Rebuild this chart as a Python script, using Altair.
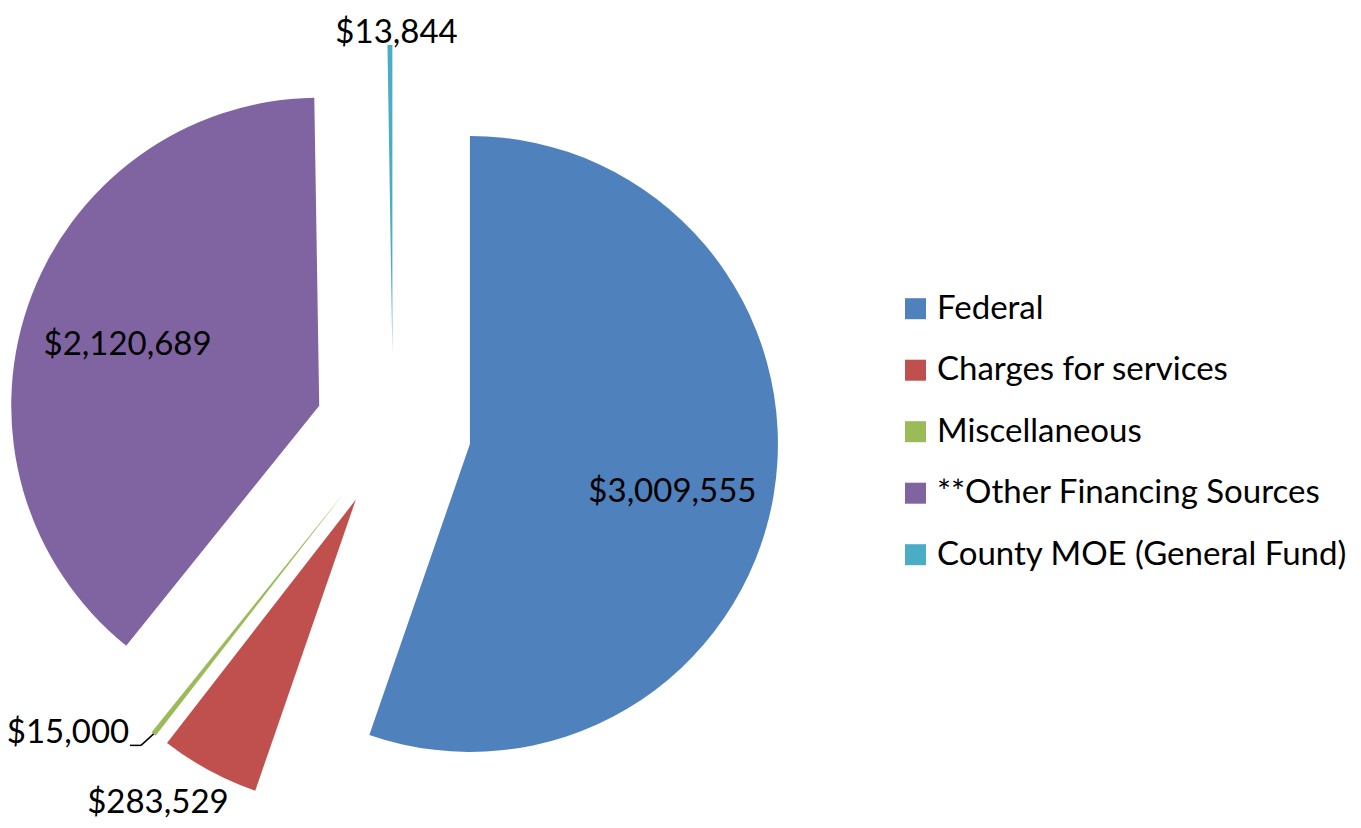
import altair as alt
import pandas as pd

# ---- data ----
categories = ["Federal", "Charges for services", "Miscellaneous",
              "**Other Financing Sources", "County MOE (General Fund)"]
values = [3009555, 283529, 15000, 2120689, 13844]

# ---- style / layout ----
colors = ["#4F81BD", "#C0504D", "#9BBB59", "#8064A2", "#4BACC6"]
label_r = [208, 362, 367, 201, 320]          # label distance from slice apex
label_da = [3.7, 4.7, 10.6, -1.4, 1.2]       # label angle tweak (deg)

FONT = "Lato"
FS = 33
CX, CY, R, EXPLODE = 385, 423, 308, 78
W, H = 1345, 812

df = pd.DataFrame({"cat": categories, "value": values, "idx": list(range(len(values))),
                   "lr": label_r, "lda": label_da})

base = (
    alt.Chart(df)
    .transform_joinaggregate(total="sum(value)")
    .transform_window(cum="sum(value)", sort=[alt.SortField("idx")], frame=[None, 0])
    .transform_calculate(t0="(datum.cum - datum.value) / datum.total * 2 * PI")
    .transform_calculate(t1="datum.cum / datum.total * 2 * PI")
    .transform_calculate(mid="(datum.t0 + datum.t1) / 2")
    .transform_calculate(px=f"{CX} + {EXPLODE} * sin(datum.mid)")
    .transform_calculate(py=f"{CY} - {EXPLODE} * cos(datum.mid)")
    .transform_calculate(la="datum.mid + datum.lda * PI / 180")
    .transform_calculate(lx="datum.px + datum.lr * sin(datum.la)")
    .transform_calculate(ly="datum.py - datum.lr * cos(datum.la)")
    .transform_calculate(label="format(datum.value, '$,')")
    .transform_calculate(ox=f"datum.px + {R} * sin(datum.mid)")
    .transform_calculate(oy=f"datum.py - {R} * cos(datum.mid)")
)

arcs = base.mark_arc(radius=R).encode(
    x=alt.X("px:Q", scale=None, axis=None),
    y=alt.Y("py:Q", scale=None, axis=None),
    theta=alt.Theta("t0:Q", scale=None),
    theta2="t1:Q",
    color=alt.Color(
        "cat:N",
        scale=alt.Scale(domain=categories, range=colors),
        sort=categories,
        legend=alt.Legend(
            title=None, orient="none", legendX=891, legendY=300.7 - FS / 2,
            symbolType="square", symbolSize=441, symbolStrokeWidth=0,
            labelFont=FONT, labelFontSize=FS, labelColor="black",
            labelOffset=5, rowPadding=27.5, padding=0, labelLimit=600,
        ),
    ),
)

texts = base.mark_text(font=FONT, fontSize=FS, baseline="middle", align="center",
                       color="black").encode(
    x=alt.X("lx:Q", scale=None, axis=None),
    y=alt.Y("ly:Q", scale=None, axis=None),
    text="label:N",
)

misc = base.transform_filter("datum.cat == 'Miscellaneous'")
leader1 = misc.transform_calculate(ex="datum.lx + 73", ey="datum.ly + 12").mark_rule(
    color="black", strokeWidth=1.5).encode(
    x=alt.X("ox:Q", scale=None, axis=None), y=alt.Y("oy:Q", scale=None, axis=None),
    x2="ex:Q", y2="ey:Q")
leader2 = misc.transform_calculate(ex="datum.lx + 73", ey="datum.ly + 12",
                                   sx="datum.lx + 62").mark_rule(
    color="black", strokeWidth=1.5).encode(
    x=alt.X("sx:Q", scale=None, axis=None), y=alt.Y("ey:Q", scale=None, axis=None),
    x2="ex:Q")

chart = (
    alt.layer(arcs, texts, leader1, leader2)
    .properties(width=W, height=H, padding=0,
                autosize=alt.AutoSizeParams(type="none"), background="white")
    .configure_view(stroke=None)
)

chart.save("out.html", embed_options={"renderer": "svg", "actions": False})
